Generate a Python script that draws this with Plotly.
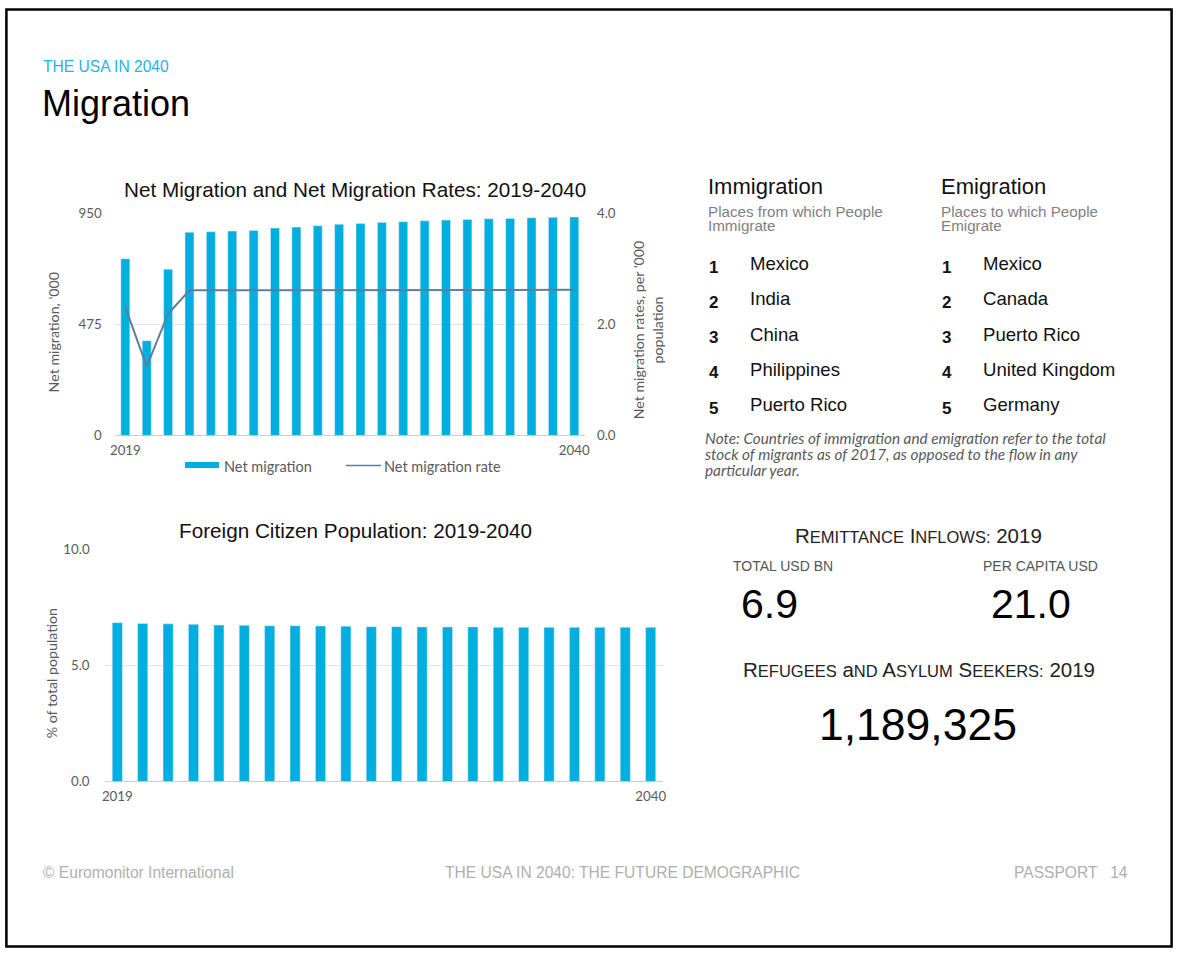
import plotly.graph_objects as go

# The page is shown with the browser's default 8px body margin and the
# resulting 1194x972 view is fitted to 1178x956; page positions below are
# given in that final frame and mapped back onto the figure's own pixels.
W, H = 1178, 956
OFF = 8
SX = W / (W + 2 * OFF)
SY = H / (H + 2 * OFF)

# ---- data -------------------------------------------------------------
years = list(range(2019, 2041))
net_migration = [755, 405, 710, 868, 870, 873, 876, 886, 890, 896, 902,
                 905, 910, 913, 917, 920, 923, 926, 927, 930, 932, 933]
net_migration_rate = [2.31, 1.24, 2.19, 2.61, 2.61, 2.61, 2.62, 2.62, 2.62,
                      2.62, 2.62, 2.62, 2.62, 2.62, 2.62, 2.62, 2.62, 2.62,
                      2.62, 2.62, 2.62, 2.62]
foreign_pop_share = [6.84, 6.81, 6.79, 6.77, 6.74, 6.73, 6.71, 6.71, 6.70,
                     6.69, 6.67, 6.67, 6.66, 6.66, 6.66, 6.64, 6.64, 6.64,
                     6.64, 6.64, 6.64, 6.64]

immigration_from = ["Mexico", "India", "China", "Philippines", "Puerto Rico"]
emigration_to = ["Mexico", "Canada", "Puerto Rico", "United Kingdom", "Germany"]

remit_total_bn = 6.9
remit_per_capita = 21.0
refugees = 1189325

# ---- style ------------------------------------------------------------
CYAN = "#00AEDF"
LINE = "#5E7E9C"
GRID = "#E3E3E3"
AXIS = "#CFCFCF"
TICK = "#595959"
ARIAL = "Liberation Sans, Arial, sans-serif"
CALIBRI = "Lato, Open Sans, sans-serif"


def px(x):
    """page x (pixels) -> paper fraction"""
    return (x / SX - OFF) / W


def py(y):
    """page y (pixels from top) -> paper fraction"""
    return 1 - (y / SY - OFF) / H


fig = go.Figure()

fig.add_trace(go.Bar(x=years, y=net_migration, marker_color=CYAN, width=0.42,
                     xaxis="x", yaxis="y", name="Net migration", showlegend=False))
fig.add_trace(go.Scatter(x=years, y=net_migration_rate, mode="lines",
                         line=dict(color=LINE, width=2), xaxis="x", yaxis="y2",
                         name="Net migration rate", showlegend=False))
fig.add_trace(go.Bar(x=years, y=foreign_pop_share, marker_color=CYAN, width=0.4,
                     xaxis="x3", yaxis="y3", showlegend=False))

tickfont = dict(family=CALIBRI, size=13.3, color=TICK)

fig.update_layout(
    width=W, height=H,
    margin=dict(l=0, r=0, t=0, b=0),
    paper_bgcolor="white", plot_bgcolor="white",
    xaxis=dict(domain=[px(117), px(585)], range=[2018.5, 2040.5],
               tickvals=[2019, 2040], ticktext=["2019", "2040"],
               tickfont=tickfont, showgrid=False, zeroline=False,
               showline=False, ticks="", ticklabelstandoff=5, fixedrange=True),
    yaxis=dict(domain=[py(435.5), py(213)], range=[0, 950],
               tickvals=[0, 475, 950], tickfont=tickfont,
               showgrid=True, gridcolor=GRID, gridwidth=1,
               zeroline=True, zerolinecolor=AXIS, zerolinewidth=1,
               showline=False, ticks="", ticklabelstandoff=12),
    yaxis2=dict(overlaying="y", side="right", range=[0, 4],
                tickvals=[0, 2, 4], ticktext=["0.0", "2.0", "4.0"],
                tickfont=tickfont, showgrid=False, zeroline=False,
                showline=False, ticks="", ticklabelstandoff=11, anchor="x"),
    xaxis3=dict(domain=[px(107), px(663)], range=[2018.5, 2040.5],
                tickvals=[2019, 2040], ticktext=["2019", "2040"],
                tickfont=tickfont, showgrid=False, zeroline=False,
                showline=False, ticks="", ticklabelstandoff=5, anchor="y3"),
    yaxis3=dict(domain=[py(781.7), py(549.3)], range=[0, 10],
                tickvals=[0, 5, 10], ticktext=["0.0", "5.0", "10.0"],
                tickfont=tickfont, showgrid=True, gridcolor=GRID, gridwidth=1,
                zeroline=True, zerolinecolor=AXIS, zerolinewidth=1,
                showline=False, ticks="", ticklabelstandoff=14, anchor="x3"),
    showlegend=False,
)

ann = []


def text(x, y, s, size, color="#000000", family=ARIAL, xanchor="left",
         angle=0, yanchor="middle"):
    ann.append(dict(x=px(x), y=py(y), xref="paper", yref="paper", text=s,
                    showarrow=False, xanchor=xanchor, yanchor=yanchor,
                    textangle=angle, font=dict(family=family, size=size,
                                               color=color)))


# page header
text(44, 66, "THE USA IN 2040", 15.6, color="#1CB5E6")
text(43, 103, "Migration", 36)

# chart titles
text(356, 189, "Net Migration and Net Migration Rates: 2019-2040", 20.7,
     color="#111111", xanchor="center")
text(357, 531, "Foreign Citizen Population: 2019-2040", 20.7,
     color="#111111", xanchor="center")

# axis titles
text(56, 332, "Net migration, '000", 14.2, color=TICK, family=CALIBRI,
     xanchor="center", angle=-90)
text(647, 330, "Net migration rates, per '000<br>population", 14.2,
     color=TICK, family=CALIBRI, xanchor="center", angle=-90)
text(55, 673, "% of total population", 14.2, color=TICK, family=CALIBRI,
     xanchor="center", angle=-90)

# legend of the top chart, and the page frame
shapes = [
    dict(type="rect", xref="paper", yref="paper", x0=px(187), x1=px(221),
         y0=py(468), y1=py(462), fillcolor=CYAN, line=dict(width=0)),
    dict(type="line", xref="paper", yref="paper", x0=px(347), x1=px(382),
         y0=py(465.5), y1=py(465.5), line=dict(color=LINE, width=1.6)),
    dict(type="rect", xref="paper", yref="paper", x0=0.0012, x1=0.9988,
         y0=0.0015, y1=0.9985, line=dict(color="#000000", width=2.5)),
]
text(224, 466, "Net migration", 14.5, color=TICK, family=CALIBRI)
text(383, 466, "Net migration rate", 14.5, color=TICK, family=CALIBRI)

# immigration / emigration rankings
for x0, head, sub1, sub2, names in [
    (705, "Immigration", "Places from which People", "Immigrate", immigration_from),
    (937, "Emigration", "Places to which People", "Emigrate", emigration_to),
]:
    text(x0, 186, head, 22, color="#111111")
    text(x0, 211, sub1, 15.2, color="#7F7F7F")
    text(x0, 225.5, sub2, 15.2, color="#7F7F7F")
    for i, name in enumerate(names):
        yc = 263.5 + i * 35.3
        text(x0 + 1, yc + 3.5, "<b>%d</b>" % (i + 1), 17, color="#111111")
        text(x0 + 42, yc, name, 18.6, color="#111111")

note = ["Note: Countries of immigration and emigration refer to the total",
        "stock of migrants as of 2017, as opposed to the flow in any",
        "particular year."]
for i, line in enumerate(note):
    text(702, 438 + i * 16.2, "<i>%s</i>" % line, 15.3, color="#595959",
         family=CALIBRI)


def small_caps(s, big, small):
    out = []
    for word in s.split(" "):
        if word and word[0].isalpha():
            out.append("<span style='font-size:%spx'>%s</span>"
                       "<span style='font-size:%spx'>%s</span>"
                       % (big, word[0], small, word[1:].upper()))
        else:
            out.append("<span style='font-size:%spx'>%s</span>" % (big, word))
    return " ".join(out)


text(917, 536, small_caps("Remittance Inflows: 2019", 20.5, 16.5), 20.5,
     color="#222222", xanchor="center")
text(782, 566, "TOTAL USD BN", 14, color="#555555", xanchor="center")
text(1038, 566, "PER CAPITA USD", 14, color="#555555", xanchor="center")
text(769, 604, "%.1f" % remit_total_bn, 41, color="#000000", xanchor="center")
text(1029, 604, "%.1f" % remit_per_capita, 41, color="#000000",
     xanchor="center")

text(917, 670, small_caps("Refugees and Asylum Seekers: 2019", 20.5, 16.5),
     20.5, color="#222222", xanchor="center")
text(916, 725, "{:,}".format(refugees), 44.5, color="#000000", xanchor="center")

# footer
FOOT = "#AFAFAF"
text(44, 873, "© Euromonitor International", 15.6, color=FOOT)
text(622, 873, "THE USA IN 2040: THE FUTURE DEMOGRAPHIC", 15.6, color=FOOT,
     xanchor="center")
text(1127, 873, "PASSPORT &nbsp; 14", 15.6, color=FOOT, xanchor="right")

fig.update_layout(annotations=ann, shapes=shapes)
fig.write_html("out.html")
